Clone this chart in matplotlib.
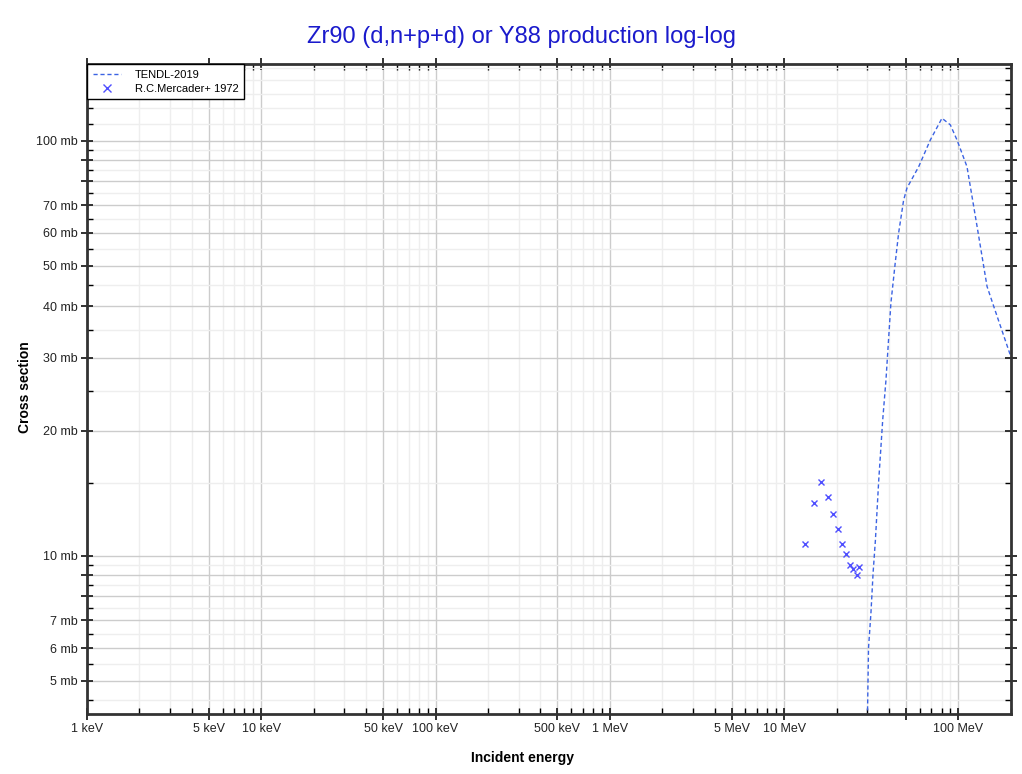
import matplotlib.pyplot as plt
from matplotlib.ticker import FixedLocator, FuncFormatter

plt.rcParams['font.family'] = ['Liberation Sans', 'DejaVu Sans']

# TENDL-2019 evaluation (energy in MeV, cross section in mb)
tendl_energy = [29.8, 30.1, 30.5, 31.5, 32.4, 33.4, 34.9, 36.8, 38.4, 41.0, 43.4,
                45.4, 48.5, 50.7, 59.2, 69.0, 80.5, 89.9, 98.2, 112.0, 128.0,
                146.0, 159.6, 200.0]
tendl_xs = [3.0, 4.2, 6.0, 7.3, 9.1, 10.9, 15.2, 21.3, 26.5, 40.7, 50.8,
            60.0, 72.0, 77.0, 86.7, 100.5, 113.4, 109.3, 100.5, 86.7, 62.2,
            44.6, 39.9, 30.2]

# R.C.Mercader+ 1972 measurements
exp_energy = [13.2, 14.9, 16.35, 17.8, 19.0, 20.3, 21.5, 22.7, 23.8, 25.0, 26.1, 26.9]
exp_xs = [10.66, 13.4, 15.05, 13.9, 12.6, 11.6, 10.7, 10.1, 9.5, 9.3, 9.0, 9.4]

y_major = [5, 6, 7, 8, 9, 10, 20, 30, 40, 50, 60, 70, 80, 90, 100]
y_labeled = [5, 6, 7, 10, 20, 30, 40, 50, 60, 70, 100]
y_minor = [4.5, 5.5, 6.5, 7.5, 8.5, 9.5, 15, 25, 35, 45, 55, 65, 75, 85, 95,
           110, 120, 130, 140, 150]

x_major = [1e-3, 5e-3, 1e-2, 5e-2, 1e-1, 5e-1, 1, 5, 10, 50, 100]
x_labeled = [1e-3, 5e-3, 1e-2, 5e-2, 1e-1, 5e-1, 1, 5, 10, 100]


def energy_label(v, pos):
    for m in x_labeled:
        if abs(v - m) / m < 1e-6:
            if v < 1:
                return '%g keV' % (v * 1000)
            return '%g MeV' % v
    return ''


def xs_label(v, pos):
    for m in y_labeled:
        if abs(v - m) / m < 1e-6:
            return '%g mb' % v
    return ''


fig = plt.figure(figsize=(10.22, 7.74), dpi=100)
ax = fig.add_axes([0.0851, 0.0775, 0.904, 0.8395])

ax.plot(tendl_energy, tendl_xs, color='#3b63e3', lw=1.0, linestyle=(0, (3, 2)),
        label='TENDL-2019')
ax.plot(exp_energy, exp_xs, linestyle='none', marker='x', ms=4, mew=1.0,
        color='#4f4fff', label='R.C.Mercader+ 1972')

ax.set_xscale('log')
ax.set_yscale('log')
ax.set_xlim(1e-3, 200)
ax.set_ylim(4.16, 153)

ax.xaxis.set_major_locator(FixedLocator(x_major))
ax.xaxis.set_minor_locator(FixedLocator(
    [m * d for d in [1e-3, 1e-2, 1e-1, 1, 10, 100] for m in [2, 3, 4, 6, 7, 8, 9]]))
ax.xaxis.set_major_formatter(FuncFormatter(energy_label))
ax.xaxis.set_minor_formatter(FuncFormatter(lambda v, p: ''))

ax.yaxis.set_major_locator(FixedLocator(y_major))
ax.yaxis.set_minor_locator(FixedLocator(y_minor))
ax.yaxis.set_major_formatter(FuncFormatter(xs_label))
ax.yaxis.set_minor_formatter(FuncFormatter(lambda v, p: ''))

ax.grid(True, which='major', color='#cccccc', lw=1.0)
ax.grid(True, which='minor', color='#eeeeee', lw=1.0)
ax.set_axisbelow(True)

ax.tick_params(which='major', direction='inout', length=9, width=1.3,
               top=True, right=True, labelsize=9, colors='#222222', pad=2)
ax.tick_params(which='minor', direction='in', length=4, width=1.0,
               top=True, right=True)
for s in ax.spines.values():
    s.set_linewidth(2.0)
    s.set_color('#333333')

fig.text(0.511, 0.0205, 'Incident energy', fontsize=10, fontweight='bold',
         ha='center', va='center')
fig.text(0.0245, 0.4995, 'Cross section', fontsize=10, fontweight='bold',
         rotation=90, ha='center', va='center')
fig.text(0.510, 0.952, 'Zr90 (d,n+p+d) or Y88 production log-log',
         color='#1a1acc', fontsize=17, ha='center', va='center')

leg = ax.legend(loc='upper left', fontsize=8, frameon=True, fancybox=False,
                borderaxespad=0, handlelength=2.6, handletextpad=1.2,
                markerscale=1.5, edgecolor='black', framealpha=1,
                borderpad=0.5, labelspacing=0.35)
leg.get_frame().set_linewidth(1.0)

fig.savefig('out.png', dpi=100)
